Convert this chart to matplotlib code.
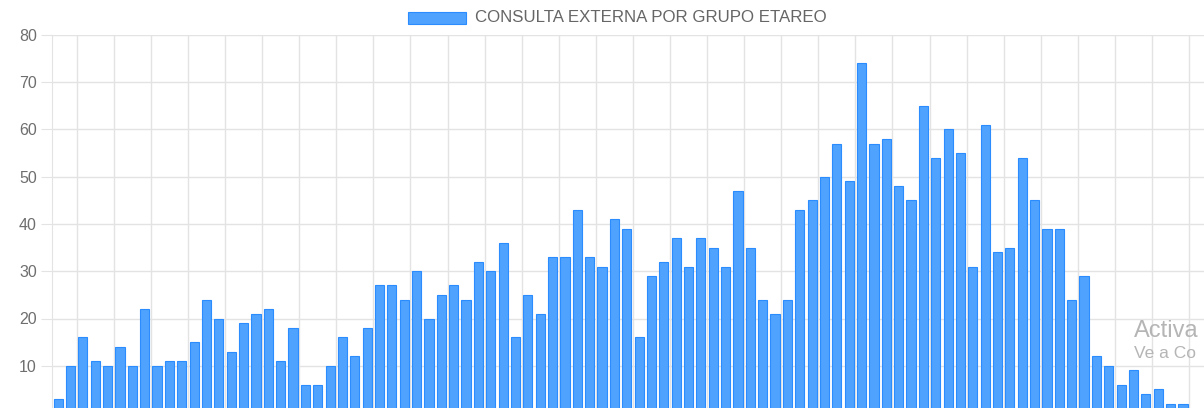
import matplotlib.pyplot as plt
from matplotlib.patches import Rectangle
import numpy as np

# values (one bar per age)
valores = [3, 10, 16, 11, 10, 14, 10, 22, 10, 11, 11, 15, 24, 20, 13, 19, 21, 22, 11, 18,
           6, 6, 10, 16, 12, 18, 27, 27, 24, 30, 20, 25, 27, 24, 32, 30, 36, 16, 25, 21,
           33, 33, 43, 33, 31, 41, 39, 16, 29, 32, 37, 31, 37, 35, 31, 47, 35, 24, 21, 24,
           43, 45, 50, 57, 49, 74, 57, 58, 48, 45, 65, 54, 60, 55, 31, 61, 34, 35, 54, 45,
           39, 39, 24, 29, 12, 10, 6, 9, 4, 5, 2, 2]
edades = list(range(len(valores)))
y_ticks = [10, 20, 30, 40, 50, 60, 70, 80]
titulo = 'CONSULTA EXTERNA POR GRUPO ETAREO'

plt.rcParams['font.family'] = ['Liberation Sans', 'DejaVu Sans']

W, H = 1204, 408
fig = plt.figure(figsize=(W / 100, H / 100), dpi=100)
# plot area: left edge x=52px, top (80) at y=35px, zero at y=413px (below the crop)
ax = fig.add_axes([52 / W, (H - 413) / H, (W - 52) / W, (413 - 35) / H])

fill = '#4fa3ff'
edge = '#2a8cff'
grid_c = '#e3e3e3'

ax.bar(edades, valores, width=0.74, color=fill, edgecolor=edge, linewidth=0.8, zorder=3)

ax.set_ylim(0, 80)
ax.set_xlim(-0.5, -0.5 + (W - 52) / 12.36)
ax.set_yticks(y_ticks)
ax.set_yticklabels([str(v) for v in y_ticks], fontsize=11.5, color='#6e6e6e')
ax.set_xticks(np.arange(1.5, len(valores), 3))
ax.tick_params(axis='x', length=0, labelbottom=False)
ax.tick_params(axis='y', length=8, color=grid_c, pad=3)
ax.grid(True, color=grid_c, linewidth=1, zorder=0)

for s in ['top', 'right', 'bottom']:
    ax.spines[s].set_visible(False)
ax.spines['left'].set_color(grid_c)

# legend at top
fig.patches.append(Rectangle((408 / W, 1 - 24 / H), 58 / W, 12 / H, transform=fig.transFigure,
                             facecolor=fill, edgecolor=edge, linewidth=0.8))
fig.text(475 / W, 1 - 17.5 / H, titulo, fontsize=12.2, color='#666666', va='center', ha='left')

# windows watermark visible in the screenshot
fig.text(1134 / W, 1 - 331 / H, 'Activa', fontsize=17, color='#b5b5b5', va='center', ha='left')
fig.text(1134 / W, 1 - 354 / H, 'Ve a Co', fontsize=12.5, color='#b5b5b5', va='center', ha='left')

fig.savefig('out.png', dpi=100)
